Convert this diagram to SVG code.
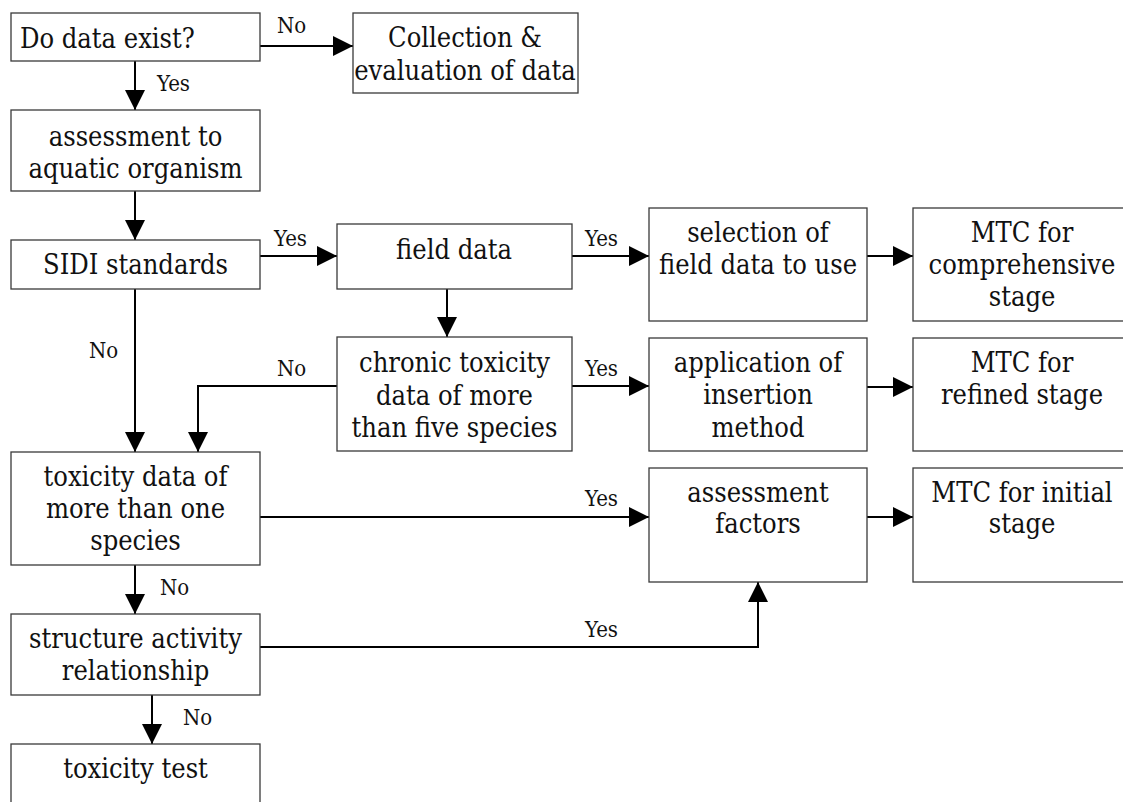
<svg xmlns="http://www.w3.org/2000/svg" width="1123" height="802" viewBox="0 0 1123 802">
<style>
.box{fill:#fff;stroke:#3a3a3a;stroke-width:1.3}
.t{font-family:"DejaVu Serif Condensed","DejaVu Serif",serif;font-stretch:condensed;font-size:27px;fill:#111;text-anchor:middle}
.l{font-family:"DejaVu Serif Condensed","DejaVu Serif",serif;font-stretch:condensed;font-size:22px;fill:#111}
.c{fill:none;stroke:#000;stroke-width:2;marker-end:url(#ah)}
</style>
<defs>
<marker id="ah" markerUnits="userSpaceOnUse" markerWidth="20" markerHeight="20" refX="20" refY="10" orient="auto" viewBox="0 0 20 20">
<path d="M0,0 L20,10 L0,20 z" fill="#000"/>
</marker>
</defs>
<rect width="1123" height="802" fill="#fff"/>
<g id="connectors">
<path class="c" d="M260,46 H353"/>
<path class="c" d="M135,61 V110"/>
<path class="c" d="M135,191 V240"/>
<path class="c" d="M260,256 H337"/>
<path class="c" d="M572,256 H649"/>
<path class="c" d="M867,256 H913"/>
<path class="c" d="M447,289 V337"/>
<path class="c" d="M135,289 V452"/>
<path class="c" d="M337,386 H198 V452"/>
<path class="c" d="M572,386 H649"/>
<path class="c" d="M867,387 H913"/>
<path class="c" d="M260,517 H649"/>
<path class="c" d="M867,517 H913"/>
<path class="c" d="M135,565 V614"/>
<path class="c" d="M260,647 H758 V582"/>
<path class="c" d="M152,695 V744"/>
<text class="l" x="277" y="33">No</text>
<text class="l" x="157" y="91">Yes</text>
<text class="l" x="274" y="246">Yes</text>
<text class="l" x="585" y="246">Yes</text>
<text class="l" x="89" y="358">No</text>
<text class="l" x="277" y="376">No</text>
<text class="l" x="585" y="376">Yes</text>
<text class="l" x="585" y="506">Yes</text>
<text class="l" x="160" y="595">No</text>
<text class="l" x="585" y="637">Yes</text>
<text class="l" x="183" y="725">No</text>
</g>
<g id="n-exist"><rect class="box" x="11" y="13" width="249" height="48"/><text class="t" x="20" y="48" style="text-anchor:start">Do data exist?</text></g>
<g id="n-collect"><rect class="box" x="353" y="13" width="225" height="80"/><text class="t" x="465" y="47">Collection &amp;</text><text class="t" x="465" y="80">evaluation of data</text></g>
<g id="n-assess"><rect class="box" x="11" y="110" width="249" height="81"/><text class="t" x="135.5" y="146">assessment to</text><text class="t" x="135.5" y="178">aquatic organism</text></g>
<g id="n-sidi"><rect class="box" x="11" y="240" width="249" height="49"/><text class="t" x="135.5" y="274">SIDI standards</text></g>
<g id="n-field"><rect class="box" x="337" y="224" width="235" height="65"/><text class="t" x="454" y="259">field data</text></g>
<g id="n-select"><rect class="box" x="649" y="208" width="218" height="113"/><text class="t" x="758" y="242">selection of</text><text class="t" x="758" y="274">field data to use</text></g>
<g id="n-mtc-comp"><rect class="box" x="913" y="208" width="220" height="113"/><text class="t" x="1022" y="242">MTC for</text><text class="t" x="1022" y="274">comprehensive</text><text class="t" x="1022" y="306">stage</text></g>
<g id="n-chronic"><rect class="box" x="337" y="337" width="235" height="114"/><text class="t" x="454.5" y="372">chronic toxicity</text><text class="t" x="454.5" y="405">data of more</text><text class="t" x="454.5" y="437">than five species</text></g>
<g id="n-app"><rect class="box" x="649" y="338" width="218" height="113"/><text class="t" x="758" y="372">application of</text><text class="t" x="758" y="404">insertion</text><text class="t" x="758" y="437">method</text></g>
<g id="n-mtc-ref"><rect class="box" x="913" y="338" width="220" height="113"/><text class="t" x="1022" y="372">MTC for</text><text class="t" x="1022" y="404">refined stage</text></g>
<g id="n-toxdata"><rect class="box" x="11" y="452" width="249" height="113"/><text class="t" x="135.5" y="486">toxicity data of</text><text class="t" x="135.5" y="518">more than one</text><text class="t" x="135.5" y="550">species</text></g>
<g id="n-af"><rect class="box" x="649" y="468" width="218" height="114"/><text class="t" x="758" y="502">assessment</text><text class="t" x="758" y="533">factors</text></g>
<g id="n-mtc-init"><rect class="box" x="913" y="468" width="220" height="114"/><text class="t" x="1022" y="502">MTC for initial</text><text class="t" x="1022" y="533">stage</text></g>
<g id="n-sar"><rect class="box" x="11" y="614" width="249" height="81"/><text class="t" x="135.5" y="648">structure activity</text><text class="t" x="135.5" y="680">relationship</text></g>
<g id="n-test"><rect class="box" x="11" y="744" width="249" height="70"/><text class="t" x="135.5" y="778">toxicity test</text></g>
</svg>
